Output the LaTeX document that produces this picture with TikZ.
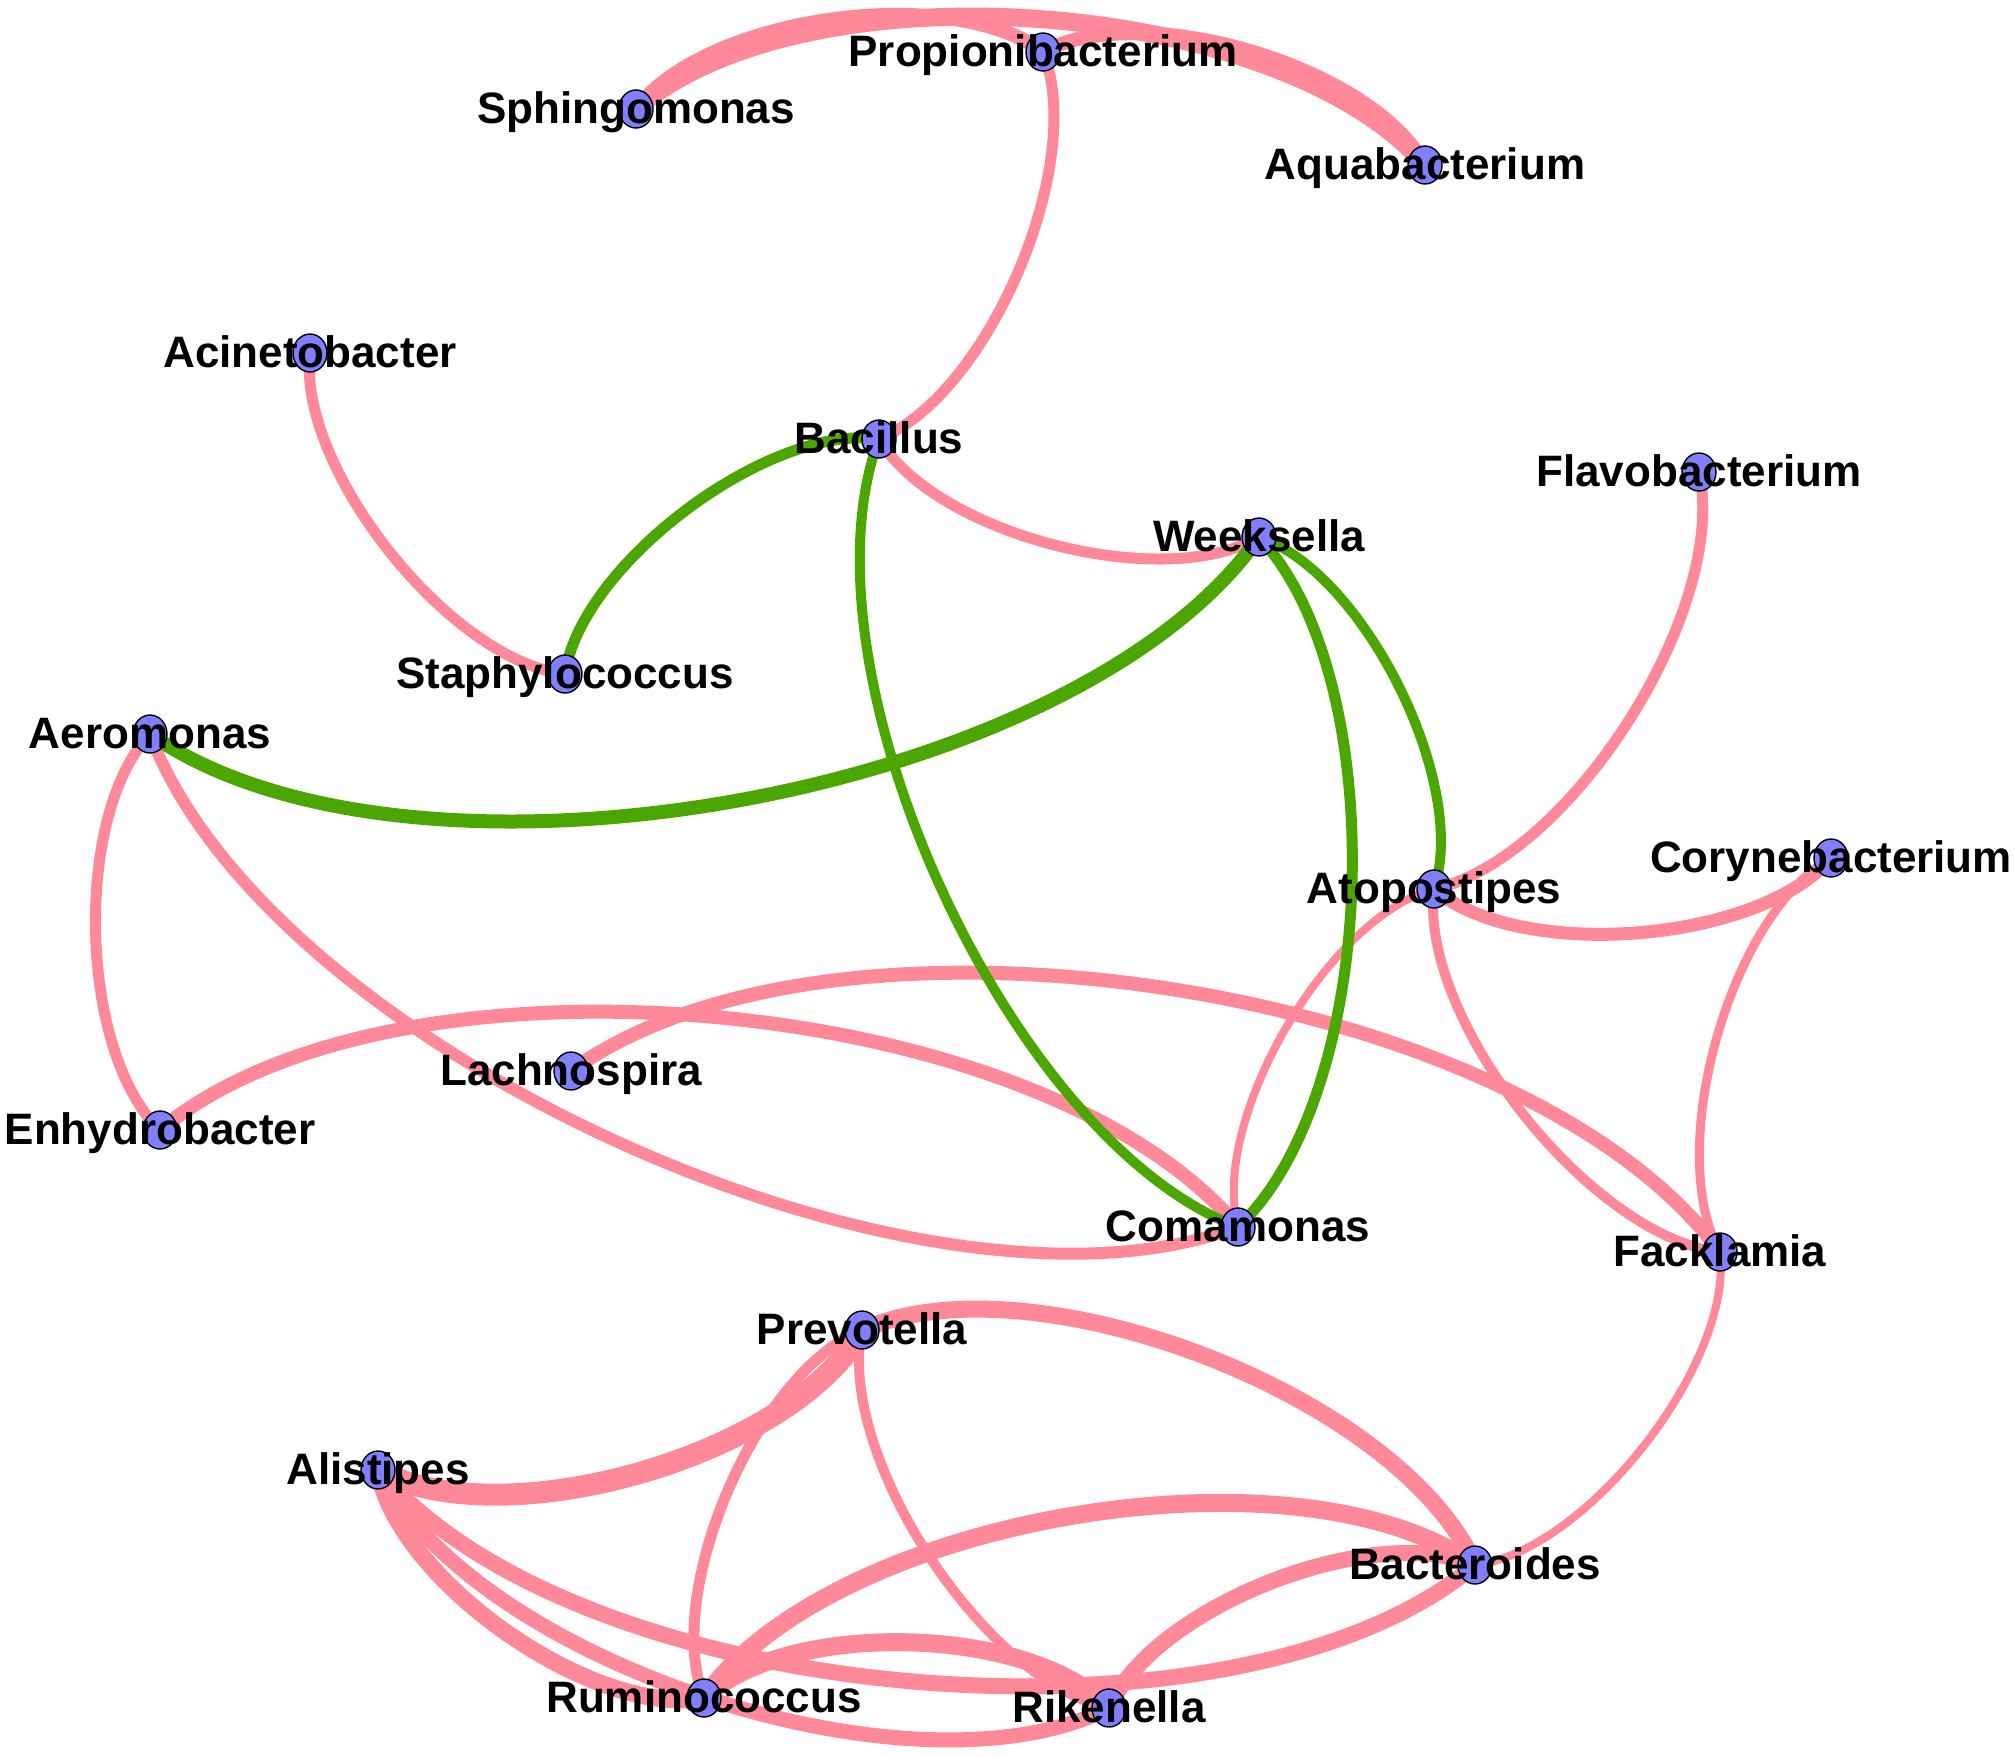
\documentclass[tikz,border=0pt]{standalone}
\usepackage{fontspec}
\setmainfont{Liberation Sans}
\usetikzlibrary{shapes.geometric}
\definecolor{edgepink}{RGB}{255,136,153}
\definecolor{edgegreen}{RGB}{76,166,0}
\definecolor{nodeblue}{RGB}{128,128,255}
\pgfdeclarelayer{edges}
\pgfsetlayers{edges,main}
\begin{document}
\begin{tikzpicture}[x=0.5pt,y=-0.5pt,
  taxon/.style={ellipse,draw=black,line width=0.7pt,fill=nodeblue,minimum width=17pt,minimum height=19pt,inner sep=0pt},
  lbl/.style={font=\bfseries\fontsize{22}{25}\selectfont,anchor=base,inner sep=0pt},
  pinkedge/.style={draw=edgepink,line width=#1*0.5pt},
  greenedge/.style={draw=edgegreen,line width=#1*0.5pt},
  gl/.style={bend left=45,looseness=0.7224},
  gr/.style={bend right=45,looseness=0.7224}]
\useasboundingbox (0,0) rectangle (2015,1757);

% nodes
\node[taxon] (Pro) at (1043,52) {};
\node[taxon] (Sph) at (636,109) {};
\node[taxon] (Aqu) at (1425,165) {};
\node[taxon] (Aci) at (310,353) {};
\node[taxon] (Bac) at (879,439) {};
\node[taxon] (Fla) at (1699,472) {};
\node[taxon] (Wee) at (1259,537) {};
\node[taxon] (Sta) at (565,674) {};
\node[taxon] (Aer) at (150,734) {};
\node[taxon] (Cor) at (1831,858) {};
\node[taxon] (Ato) at (1434,889) {};
\node[taxon] (Lac) at (571,1071) {};
\node[taxon] (Enh) at (160,1130) {};
\node[taxon] (Com) at (1238,1227) {};
\node[taxon] (Fac) at (1720,1252) {};
\node[taxon] (Pre) at (862,1330) {};
\node[taxon] (Ali) at (378,1470) {};
\node[taxon] (Bct) at (1475,1565) {};
\node[taxon] (Rum) at (704,1698) {};
\node[taxon] (Rik) at (1109,1708) {};

% labels
\node[lbl] (tPro) at (1043,66) {Propionibacterium};
\node[lbl] (tSph) at (636,123) {Sphingomonas};
\node[lbl] (tAqu) at (1425,179) {Aquabacterium};
\node[lbl] (tAci) at (310,367) {Acinetobacter};
\node[lbl] (tBac) at (879,453) {Bacillus};
\node[lbl] (tFla) at (1699,486) {Flavobacterium};
\node[lbl] (tWee) at (1259,551) {Weeksella};
\node[lbl] (tSta) at (565,688) {Staphylococcus};
\node[lbl] (tAer) at (150,748) {Aeromonas};
\node[lbl] (tCor) at (1831,872) {Corynebacterium};
\node[lbl] (tAto) at (1434,903) {Atopostipes};
\node[lbl] (tLac) at (571,1085) {Lachnospira};
\node[lbl] (tEnh) at (160,1144) {Enhydrobacter};
\node[lbl] (tCom) at (1238,1241) {Comamonas};
\node[lbl] (tFac) at (1720,1266) {Facklamia};
\node[lbl] (tPre) at (862,1344) {Prevotella};
\node[lbl] (tAli) at (378,1484) {Alistipes};
\node[lbl] (tBct) at (1475,1579) {Bacteroides};
\node[lbl] (tRum) at (704,1712) {Ruminococcus};
\node[lbl] (tRik) at (1109,1722) {Rikenella};

\begin{pgfonlayer}{edges}
% pink (positive) edges
\draw[pinkedge=18] (Sph.center) to[gl] (Aqu.center);
\draw[pinkedge=14] (Sph.center) to[gl] (Pro.center);
\draw[pinkedge=14] (Pro.center) to[gl] (Aqu.center);
\draw[pinkedge=11] (Pro.center) to[gl] (Bac.center);
\draw[pinkedge=11] (Aci.center) to[gr] (Sta.center);
\draw[pinkedge=11] (Bac.center) to[gr] (Wee.center);
\draw[pinkedge=11] (Fla.center) to[gl] (Ato.center);
\draw[pinkedge=13] (Ato.center) to[gr] (Cor.center);
\draw[pinkedge=8] (Ato.center) to[gr] (Com.center);
\draw[pinkedge=10] (Ato.center) to[gr] (Fac.center);
\draw[pinkedge=9] (Cor.center) to[gr] (Fac.center);
\draw[pinkedge=11] (Aer.center) to[gr] (Enh.center);
\draw[pinkedge=12] (Aer.center) to[gr] (Com.center);
\draw[pinkedge=14] (Enh.center) to[gl] (Com.center);
\draw[pinkedge=14] (Lac.center) to[gl] (Fac.center);
\draw[pinkedge=8] (Fac.center) to[gl] (Bct.center);
\draw[pinkedge=22] (Pre.center) to[gl] (Ali.center);
\draw[pinkedge=17] (Pre.center) to[gl] (Bct.center);
\draw[pinkedge=11] (Pre.center) to[gr] (Rum.center);
\draw[pinkedge=10] (Pre.center) to[gr] (Rik.center);
\draw[pinkedge=17] (Ali.center) to[gr] (Rum.center);
\draw[pinkedge=15] (Ali.center) to[gr] (Rik.center);
\draw[pinkedge=16] (Ali.center) to[gr] (Bct.center);
\draw[pinkedge=18] (Rum.center) to[gl] (Bct.center);
\draw[pinkedge=16] (Rik.center) to[gl] (Bct.center);
\draw[pinkedge=18] (Rum.center) to[gl] (Rik.center);
% green (negative) edges
\draw[greenedge=11] (Bac.center) to[gr] (Sta.center);
\draw[greenedge=10] (Bac.center) to[gr] (Com.center);
\draw[greenedge=14] (Wee.center) to[gl] (Aer.center);
\draw[greenedge=11] (Wee.center) to[gl] (Com.center);
\draw[greenedge=10] (Wee.center) to[gl] (Ato.center);
\end{pgfonlayer}
\end{tikzpicture}
\end{document}
